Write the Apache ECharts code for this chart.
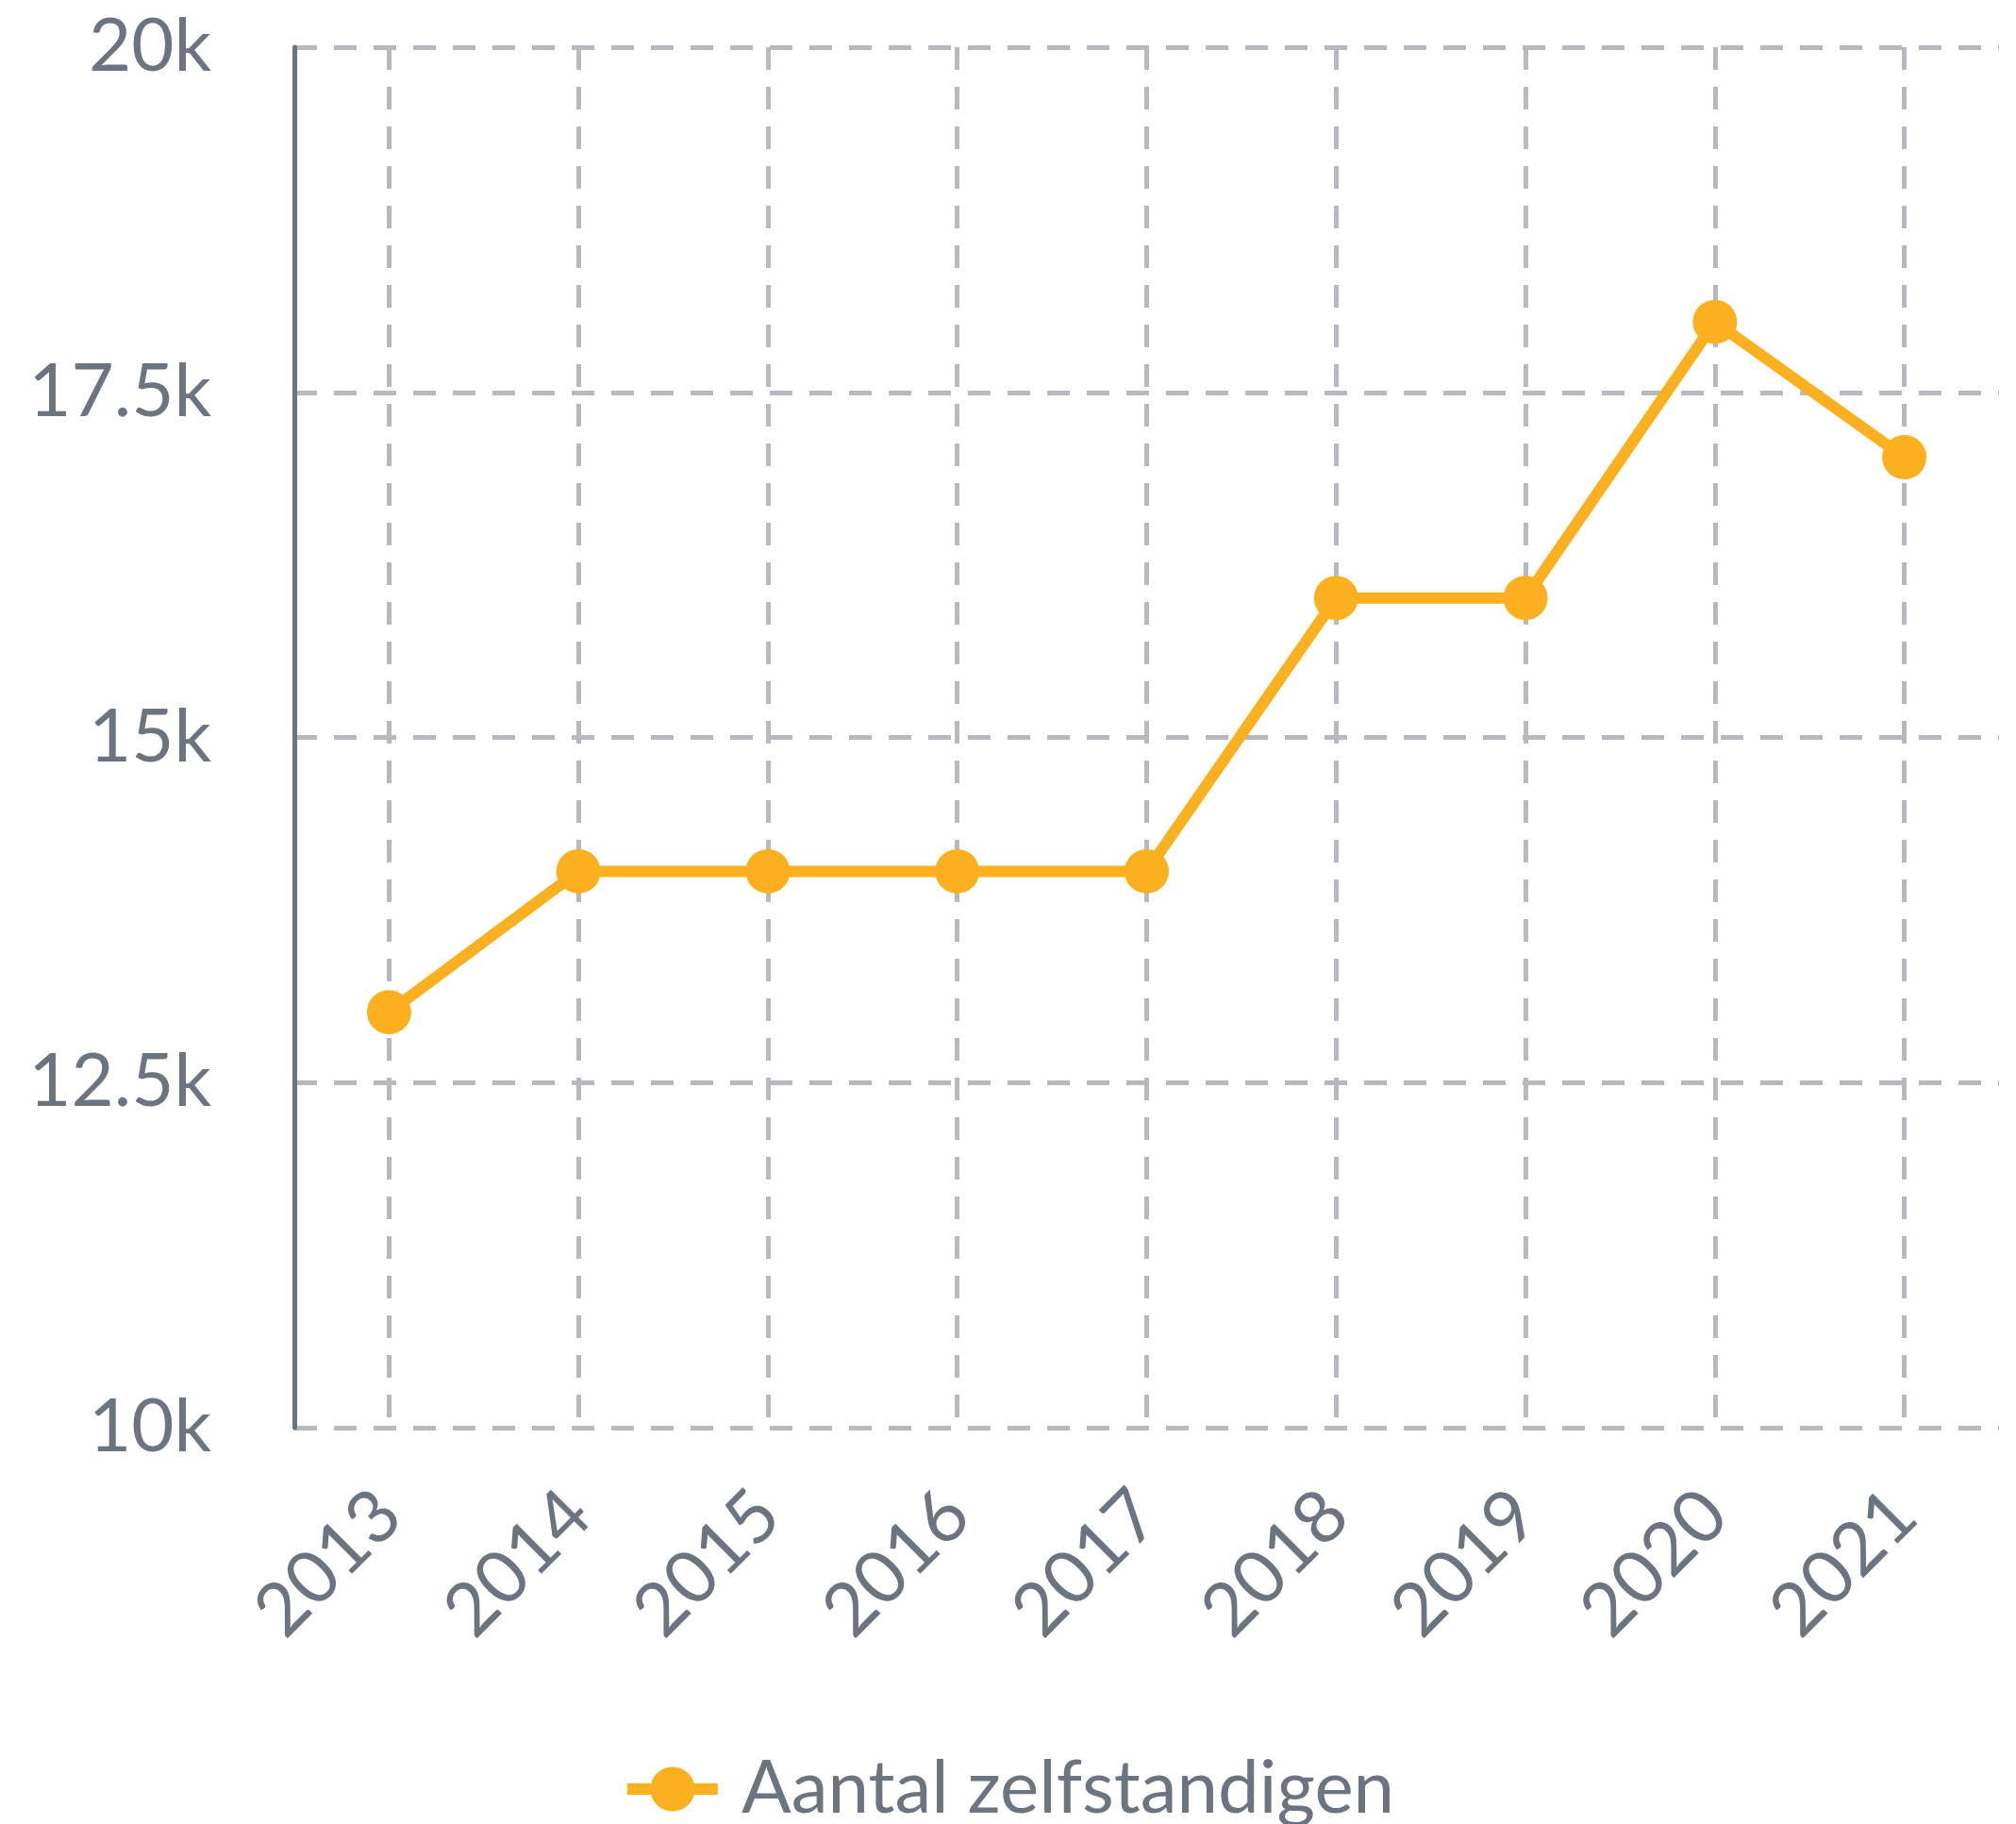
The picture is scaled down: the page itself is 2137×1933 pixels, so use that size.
<!DOCTYPE html>
<html>
<head>
<meta charset="utf-8">
<script src="https://cdn.jsdelivr.net/npm/echarts@6/dist/echarts.min.js"></script>
<style>
html,body{margin:0;padding:0;background:#fff;}
#chart{width:2137px;height:1933px;}
</style>
</head>
<body>
<div id="chart"></div>
<script>
const categories = ['2013','2014','2015','2016','2017','2018','2019','2020','2021'];
const seriesName = 'Aantal zelfstandigen';
const values = [13010, 14030, 14030, 14030, 14030, 16010, 16010, 18010, 17030];
const yMin = 10000, yMax = 20000, yInterval = 2500;

const textColor = '#6c757f';
const gridColor = '#b6b9bd';
const lineColor = '#fbb020';
const font = 'Lato';

const chart = echarts.init(document.getElementById('chart'));
chart.setOption({
  animation: false,
  grid: { left: 312, right: 18, top: 50, bottom: 420, containLabel: false },
  legend: {
    data: [seriesName],
    left: 'center',
    top: 1852,
    itemWidth: 96,
    itemHeight: 59,
    lineStyle: { width: 12 },
    textStyle: { color: textColor, fontSize: 78, fontFamily: font, padding: [0, 0, 0, 20] }
  },
  xAxis: {
    type: 'category',
    data: categories,
    boundaryGap: true,
    axisLine: { show: false },
    axisTick: { show: false },
    axisLabel: { rotate: 45, margin: 80, color: textColor, fontSize: 78, fontFamily: font, interval: 0 },
    splitLine: { show: true, interval: 0, alignWithLabel: true, lineStyle: { color: gridColor, width: 5, type: [24, 18] } }
  },
  yAxis: {
    type: 'value',
    min: yMin, max: yMax, interval: yInterval,
    axisLine: { show: true, lineStyle: { color: textColor, width: 5 } },
    axisTick: { show: false },
    axisLabel: {
      margin: 88, color: textColor, fontSize: 78, fontFamily: font,
      formatter: v => (v / 1000) + 'k'
    },
    splitLine: { show: true, lineStyle: { color: gridColor, width: 5, type: [24, 18] } }
  },
  series: [{
    name: seriesName,
    type: 'line',
    data: values,
    symbol: 'circle',
    symbolSize: 47,
    lineStyle: { color: lineColor, width: 12 },
    itemStyle: { color: lineColor }
  }]
});
</script>
</body>
</html>
